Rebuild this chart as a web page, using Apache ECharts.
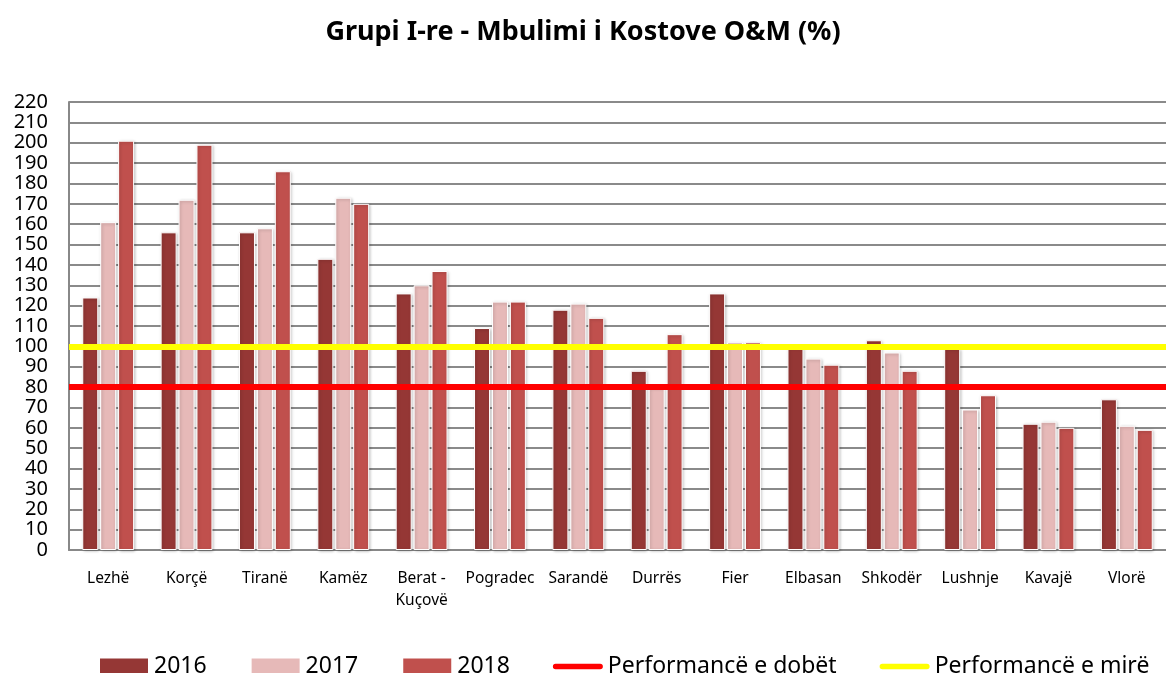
<!DOCTYPE html>
<html>
<head>
<meta charset="utf-8">
<script src="https://cdn.jsdelivr.net/npm/echarts@6/dist/echarts.min.js"></script>
<style>html,body{margin:0;padding:0;background:#fff;}#c{width:1166px;height:673px;}</style>
</head>
<body>
<div id="c"></div>
<script>
const categories = ['Lezhë','Korçë','Tiranë','Kamëz','Berat -\nKuçovë','Pogradec','Sarandë','Durrës','Fier','Elbasan','Shkodër','Lushnje','Kavajë','Vlorë'];
const v2016 = [124,156,156,143,126,109,118,88,126,100,103,99,62,74];
const v2017 = [161,172,158,173,130,122,121,80,102,94,97,69,63,61];
const v2018 = [201,199,186,170,137,122,114,106,102,91,88,76,60,59];
const poorLevel = 80;
const goodLevel = 100;
const yTicks = {min:0, max:220, interval:10};

const font = 'Noto Sans';
const chart = echarts.init(document.getElementById('c'));
const barStyle = (c) => ({color:c, borderColor:'#fff', borderWidth:1, shadowBlur:3, shadowColor:'rgba(0,0,0,0.25)', shadowOffsetX:1, shadowOffsetY:1});
const lineIcon = 'path://M0,0 M3,6 L52,6 A3,3 0 0 1 52,12 L3,12 A3,3 0 0 1 3,6 Z M55,18';
chart.setOption({
  animation:false,
  title:{text:'Grupi I-re - Mbulimi i Kostove O&M (%)', left:'center', top:14,
    textStyle:{fontFamily:font, fontSize:27, fontWeight:'bold', color:'#000'}},
  grid:{left:69, right:0, top:102, bottom:123},
  legend:{left:93, top:650, itemGap:43, itemWidth:50, itemHeight:18,
    textStyle:{fontFamily:font, fontSize:23, color:'#000'},
    data:[{name:'2016', icon:'rect'},{name:'2017', icon:'rect'},{name:'2018', icon:'rect'},
      {name:'Performancë e dobët', icon:lineIcon, itemStyle:{color:'#ff0000'}},
      {name:'Performancë e mirë', icon:lineIcon, itemStyle:{color:'#ffff00'}}]},
  xAxis:{type:'category', data:categories,
    axisLine:{lineStyle:{color:'#888', width:2}}, axisTick:{show:false},
    axisLabel:{fontFamily:font, fontSize:15.5, color:'#000', margin:18, lineHeight:22, interval:0}},
  yAxis:{type:'value', min:yTicks.min, max:yTicks.max, interval:yTicks.interval,
    axisLine:{show:true, lineStyle:{color:'#888', width:2}}, axisTick:{show:false},
    axisLabel:{fontFamily:font, fontSize:20, color:'#000', margin:21},
    splitLine:{lineStyle:{color:'#8a8a8a', width:2}}},
  series:[
    {name:'2016', type:'bar', data:v2016, barWidth:16, barGap:'12%', itemStyle:barStyle('#953735')},
    {name:'2017', type:'bar', data:v2017, barWidth:16, barGap:'12%', itemStyle:barStyle('#e6b9b8')},
    {name:'2018', type:'bar', data:v2018, barWidth:16, barGap:'12%', itemStyle:barStyle('#c0504d')},
    {name:'Performancë e dobët', type:'line', data:[], itemStyle:{color:'#ff0000'},
      markLine:{silent:true, symbol:'none', label:{show:false}, lineStyle:{color:'#ff0000', width:6, type:'solid'},
        data:[{yAxis:poorLevel}]}},
    {name:'Performancë e mirë', type:'line', data:[], itemStyle:{color:'#ffff00'},
      markLine:{silent:true, symbol:'none', label:{show:false}, lineStyle:{color:'#ffff00', width:6, type:'solid'},
        data:[{yAxis:goodLevel}]}}
  ]
});
</script>
</body>
</html>
